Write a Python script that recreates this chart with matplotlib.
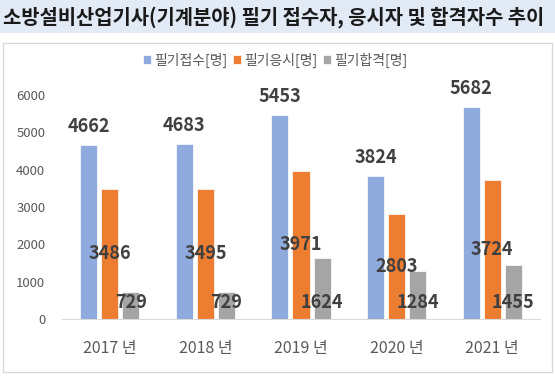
import numpy as np
import matplotlib.pyplot as plt
from matplotlib.patches import Rectangle

plt.rcParams['font.family'] = ['Noto Sans CJK KR', 'DejaVu Sans']

# data
years = ['2017 년', '2018 년', '2019 년', '2020 년', '2021 년']
applied = [4662, 4683, 5453, 3824, 5682]
took = [3486, 3495, 3971, 2803, 3724]
passed = [729, 729, 1624, 1284, 1455]
series_names = ['필기접수[명]', '필기응시[명]', '필기합격[명]']

title = '소방설비산업기사(기계분야) 필기 접수자, 응시자 및 합격자수 추이'

colors = ['#8faadc', '#ed7d31', '#a5a5a5']
label_color = '#404040'

fig = plt.figure(figsize=(5.55, 3.79), dpi=100)

# title band
fig.patches.append(Rectangle((0, 1 - 33 / 379), 1, 33 / 379, transform=fig.transFigure,
                             facecolor='#e2eaf6', edgecolor='none', zorder=-2))
fig.text(3 / 555, 1 - 17 / 379, title, fontsize=14.3, fontweight='bold',
         color='#1a1a1a', va='center', ha='left')

# chart frame
fig.patches.append(Rectangle((3 / 555, 1 - 372 / 379), 549 / 555, 329 / 379,
                             transform=fig.transFigure, facecolor='white',
                             edgecolor='#d9d9d9', linewidth=1, zorder=-1))

ax = fig.add_axes([62 / 555, 60 / 379, 478 / 555, 224 / 379])
ax.set_zorder(2)
ax.set_facecolor('none')

x = np.arange(len(years))
w = 0.178
off = 0.22
bars = []
for i, vals in enumerate([applied, took, passed]):
    b = ax.bar(x + (i - 1) * off, vals, width=w, color=colors[i], label=series_names[i],
               edgecolor='white', linewidth=0.5)
    bars.append(b)

lab_kw = dict(fontsize=13, fontweight='bold', color=label_color, ha='center', clip_on=False)
for xi, v in zip(x - off, applied):
    ax.text(xi, v + 250, str(v), va='bottom', **lab_kw)
for xi, v in zip(x, took):
    ax.text(xi, v / 2, str(v), va='center', **lab_kw)
for xi, v in zip(x + off, passed):
    ax.text(xi, 450, str(v), va='center', **lab_kw)

ax.set_xlim(-0.5, 4.5)
ax.set_ylim(0, 6000)
ax.set_yticks(range(0, 6001, 1000))
ax.set_xticks(x)
ax.set_xticklabels(years)
ax.tick_params(axis='y', length=0, pad=12, labelsize=9.5, labelcolor='#595959')
ax.tick_params(axis='x', length=0, pad=15, labelsize=11.5, labelcolor='#595959')
for s in ['top', 'right', 'left']:
    ax.spines[s].set_visible(False)
ax.spines['bottom'].set_color('#d9d9d9')

fig.legend(handles=bars, labels=series_names, loc='center', bbox_to_anchor=(275 / 555, 1 - 60 / 379),
           ncol=3, frameon=False, fontsize=10, labelcolor='#595959',
           handlelength=0.6, handleheight=0.6, handletextpad=0.2, columnspacing=0.4)

fig.savefig('out.png', dpi=100)
